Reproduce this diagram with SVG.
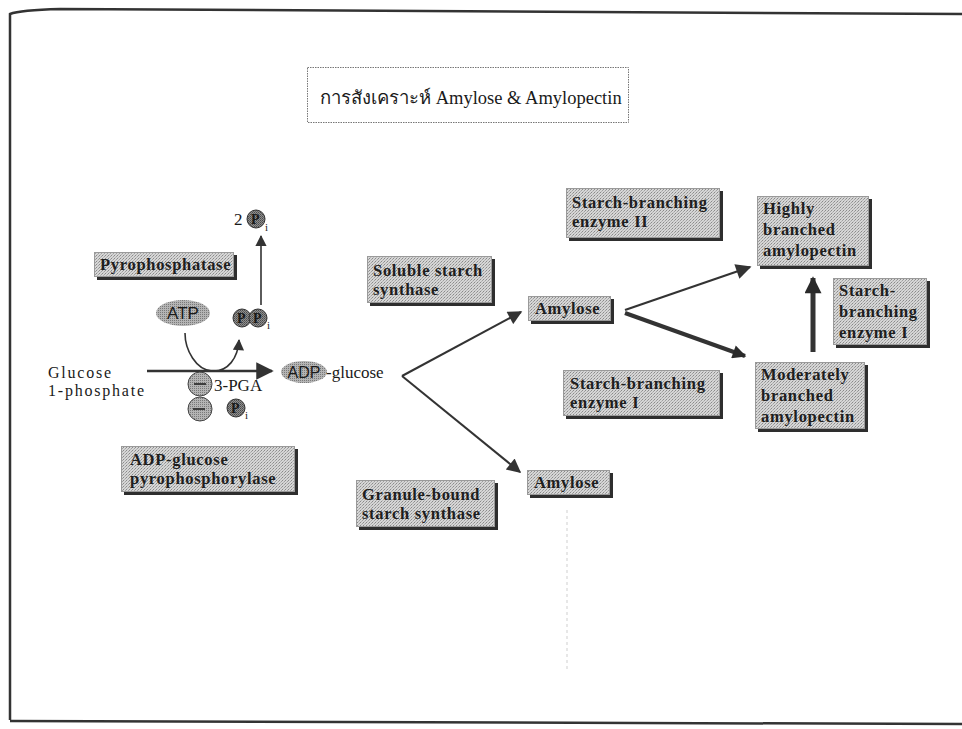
<svg xmlns="http://www.w3.org/2000/svg" width="962" height="729" viewBox="0 0 962 729">
  <defs>
    <pattern id="stipple" width="3" height="3" patternUnits="userSpaceOnUse">
      <rect width="3" height="3" fill="#d6d6d6"/>
      <rect width="1" height="1" fill="#8a8a8a"/>
      <rect x="2" y="1" width="1" height="1" fill="#a0a0a0"/>
      <rect x="1" y="2" width="1" height="1" fill="#b4b4b4"/>
    </pattern>
    <pattern id="dotdark" width="2" height="2" patternUnits="userSpaceOnUse">
      <rect width="2" height="2" fill="#8e8e8e"/>
      <rect width="1" height="1" fill="#4a4a4a"/>
      <rect x="1" y="1" width="1" height="1" fill="#606060"/>
    </pattern>
    <pattern id="dotlight" width="2" height="2" patternUnits="userSpaceOnUse">
      <rect width="2" height="2" fill="#b4b4b4"/>
      <rect width="1" height="1" fill="#7a7a7a"/>
    </pattern>
    <marker id="ahs" viewBox="0 0 10 10" refX="9" refY="5" markerWidth="8" markerHeight="7" orient="auto" markerUnits="strokeWidth">
      <path d="M0,0 L10,5 L0,10 z" fill="#333"/>
    </marker>
    <marker id="ahb" viewBox="0 0 10 10" refX="9" refY="5" markerWidth="3.6" markerHeight="3.4" orient="auto" markerUnits="strokeWidth">
      <path d="M0,0 L10,5 L0,10 z" fill="#2a2a2a"/>
    </marker>
  </defs>
  <style>
    .t { font-family: "Liberation Serif", "DejaVu Serif", serif; fill: #1a1a1a; }
    .s { font-family: "Liberation Sans", "DejaVu Sans", sans-serif; fill: #1a1a1a; }
    .p { font-family: "Liberation Serif", "DejaVu Serif", serif; font-size: 14px; font-weight: bold; fill: #1a1a1a; }
    .bt { font-family: "Liberation Serif", "DejaVu Serif", serif; font-size: 16.5px; fill: #1e1e1e; font-weight: bold; letter-spacing: 0.7px; }
    .box { fill: url(#stipple); stroke: #9a9a9a; stroke-width: 1; }
    .shadow { fill: #2e2e2e; }
    .conn { fill: none; stroke: #333; }
    .disc { fill: url(#dotdark); stroke: #333; stroke-width: 1; }
    .reg { fill: url(#dotlight); stroke: #444; stroke-width: 1; }
  </style>

  <rect width="962" height="729" fill="#ffffff"/>

  <!-- page frame -->
  <path d="M10,720 L10,14 Q20,10 60,9 L962,14" fill="none" stroke="#333" stroke-width="2.5"/>
  <path d="M10,721 L962,724" fill="none" stroke="#333" stroke-width="2.5"/>
  <line x1="567" y1="510" x2="567" y2="672" stroke="#cfcfcf" stroke-width="1" stroke-dasharray="3,3"/>

  <!-- title -->
  <g id="title">
    <rect x="307.5" y="67.5" width="321" height="55" fill="#fff" stroke="#777" stroke-width="1" stroke-dasharray="1.5,1"/>
    <text class="t" x="320" y="104" font-size="18.5">การสังเคราะห์ Amylose &amp; Amylopectin</text>
  </g>

  <!-- connectors -->
  <g id="connectors">
    <line class="conn" x1="147" y1="371" x2="272" y2="371" stroke-width="2.5" marker-end="url(#ahs)"/>
    <path class="conn" d="M185,333 C185,350 196,370 212,371 C228,372 238,358 239,340" stroke-width="1.6" marker-end="url(#ahs)"/>
    <line class="conn" x1="261" y1="305" x2="261" y2="236" stroke-width="1.6" marker-end="url(#ahs)"/>
    <line class="conn" x1="402" y1="376" x2="521" y2="312" stroke-width="2" marker-end="url(#ahs)"/>
    <line class="conn" x1="402" y1="376" x2="520" y2="472" stroke-width="2" marker-end="url(#ahs)"/>
    <line class="conn" x1="625" y1="310" x2="750" y2="267" stroke-width="2.2" marker-end="url(#ahs)"/>
    <line class="conn" x1="625" y1="313" x2="745" y2="356" stroke-width="4" marker-end="url(#ahb)"/>
    <line class="conn" x1="813" y1="352" x2="813" y2="278" stroke-width="5" marker-end="url(#ahb)"/>
  </g>

  <!-- metabolites -->
  <g id="two-pi">
    <text class="t" x="234" y="225" font-size="17">2</text>
    <circle class="disc" cx="256" cy="219" r="9"/>
    <text class="p" x="251" y="224">P</text>
    <text class="t" x="265" y="231" font-size="11">i</text>
  </g>
  <g id="atp">
    <ellipse cx="183" cy="313" rx="27" ry="13" fill="url(#dotlight)"/>
    <text class="s" x="183" y="319" font-size="17" text-anchor="middle">ATP</text>
  </g>
  <g id="ppi">
    <circle class="disc" cx="242" cy="318" r="9"/>
    <circle class="disc" cx="258" cy="318" r="9"/>
    <text class="p" x="237" y="323">P</text>
    <text class="p" x="253" y="323">P</text>
    <text class="t" x="267" y="329" font-size="11">i</text>
  </g>
  <g id="glucose-1-phosphate">
    <text class="t" x="48" y="378" font-size="16" textLength="63" lengthAdjust="spacing">Glucose</text>
    <text class="t" x="48" y="396" font-size="16" textLength="96" lengthAdjust="spacing">1-phosphate</text>
  </g>
  <g id="adp-glucose">
    <ellipse cx="304" cy="372" rx="23" ry="11" fill="url(#dotlight)"/>
    <text class="s" x="304" y="378" font-size="16" text-anchor="middle">ADP</text>
    <text class="t" x="326" y="378" font-size="17">-glucose</text>
  </g>
  <g id="activator-3pga">
    <circle class="reg" cx="200" cy="384" r="12"/>
    <line x1="194" y1="384" x2="206" y2="384" stroke="#333" stroke-width="1.8"/>
    <text class="t" x="214" y="391" font-size="17">3-PGA</text>
  </g>
  <g id="inhibitor-pi">
    <circle class="reg" cx="200" cy="409" r="12"/>
    <line x1="193" y1="409" x2="205" y2="409" stroke="#333" stroke-width="1.8"/>
    <circle class="disc" cx="236" cy="408" r="9"/>
    <text class="p" x="231" y="413">P</text>
    <text class="t" x="245" y="419" font-size="11">i</text>
  </g>

  <!-- enzyme and product boxes -->
  <g id="pyrophosphatase">
    <rect class="shadow" x="97" y="255" width="140" height="25"/>
    <rect class="box" x="94.5" y="252.5" width="139" height="24"/>
    <text class="bt" x="100" y="270">Pyrophosphatase</text>
  </g>
  <g id="adp-glucose-pyrophosphorylase">
    <rect class="shadow" x="124" y="449" width="174" height="46"/>
    <rect class="box" x="121.5" y="446.5" width="173" height="45"/>
    <text class="bt" x="130" y="465">ADP-glucose</text>
    <text class="bt" x="130" y="484">pyrophosphorylase</text>
  </g>
  <g id="soluble-starch-synthase">
    <rect class="shadow" x="370" y="259" width="125" height="47"/>
    <rect class="box" x="367.5" y="256.5" width="124" height="46"/>
    <text class="bt" x="373" y="276" letter-spacing="0.2">Soluble starch</text>
    <text class="bt" x="373" y="295">synthase</text>
  </g>
  <g id="granule-bound-starch-synthase">
    <rect class="shadow" x="359" y="483" width="139" height="47"/>
    <rect class="box" x="356.5" y="480.5" width="138" height="46"/>
    <text class="bt" x="362" y="500">Granule-bound</text>
    <text class="bt" x="362" y="519">starch synthase</text>
  </g>
  <g id="amylose-soluble">
    <rect class="shadow" x="531" y="299" width="83" height="25"/>
    <rect class="box" x="528.5" y="296.5" width="82" height="24"/>
    <text class="bt" x="535" y="314">Amylose</text>
  </g>
  <g id="amylose-granule">
    <rect class="shadow" x="530" y="473" width="83" height="25"/>
    <rect class="box" x="527.5" y="470.5" width="82" height="24"/>
    <text class="bt" x="534" y="488">Amylose</text>
  </g>
  <g id="starch-branching-enzyme-ii">
    <rect class="shadow" x="569" y="191" width="154" height="50"/>
    <rect class="box" x="566.5" y="188.5" width="153" height="49"/>
    <text class="bt" x="572" y="208">Starch-branching</text>
    <text class="bt" x="572" y="227">enzyme II</text>
  </g>
  <g id="starch-branching-enzyme-i-a">
    <rect class="shadow" x="566" y="373" width="157" height="46"/>
    <rect class="box" x="563.5" y="370.5" width="156" height="45"/>
    <text class="bt" x="570" y="389">Starch-branching</text>
    <text class="bt" x="570" y="408">enzyme I</text>
  </g>
  <g id="highly-branched-amylopectin">
    <rect class="shadow" x="760" y="199" width="112" height="70"/>
    <rect class="box" x="757.5" y="196.5" width="111" height="69"/>
    <text class="bt" x="763" y="214">Highly</text>
    <text class="bt" x="763" y="235">branched</text>
    <text class="bt" x="763" y="256">amylopectin</text>
  </g>
  <g id="starch-branching-enzyme-i-b">
    <rect class="shadow" x="836" y="281" width="94" height="67"/>
    <rect class="box" x="833.5" y="278.5" width="93" height="66"/>
    <text class="bt" x="839" y="296">Starch-</text>
    <text class="bt" x="839" y="317">branching</text>
    <text class="bt" x="839" y="338">enzyme I</text>
  </g>
  <g id="moderately-branched-amylopectin">
    <rect class="shadow" x="758" y="365" width="110" height="67"/>
    <rect class="box" x="755.5" y="362.5" width="109" height="66"/>
    <text class="bt" x="761" y="380">Moderately</text>
    <text class="bt" x="761" y="401">branched</text>
    <text class="bt" x="761" y="422">amylopectin</text>
  </g>
</svg>
